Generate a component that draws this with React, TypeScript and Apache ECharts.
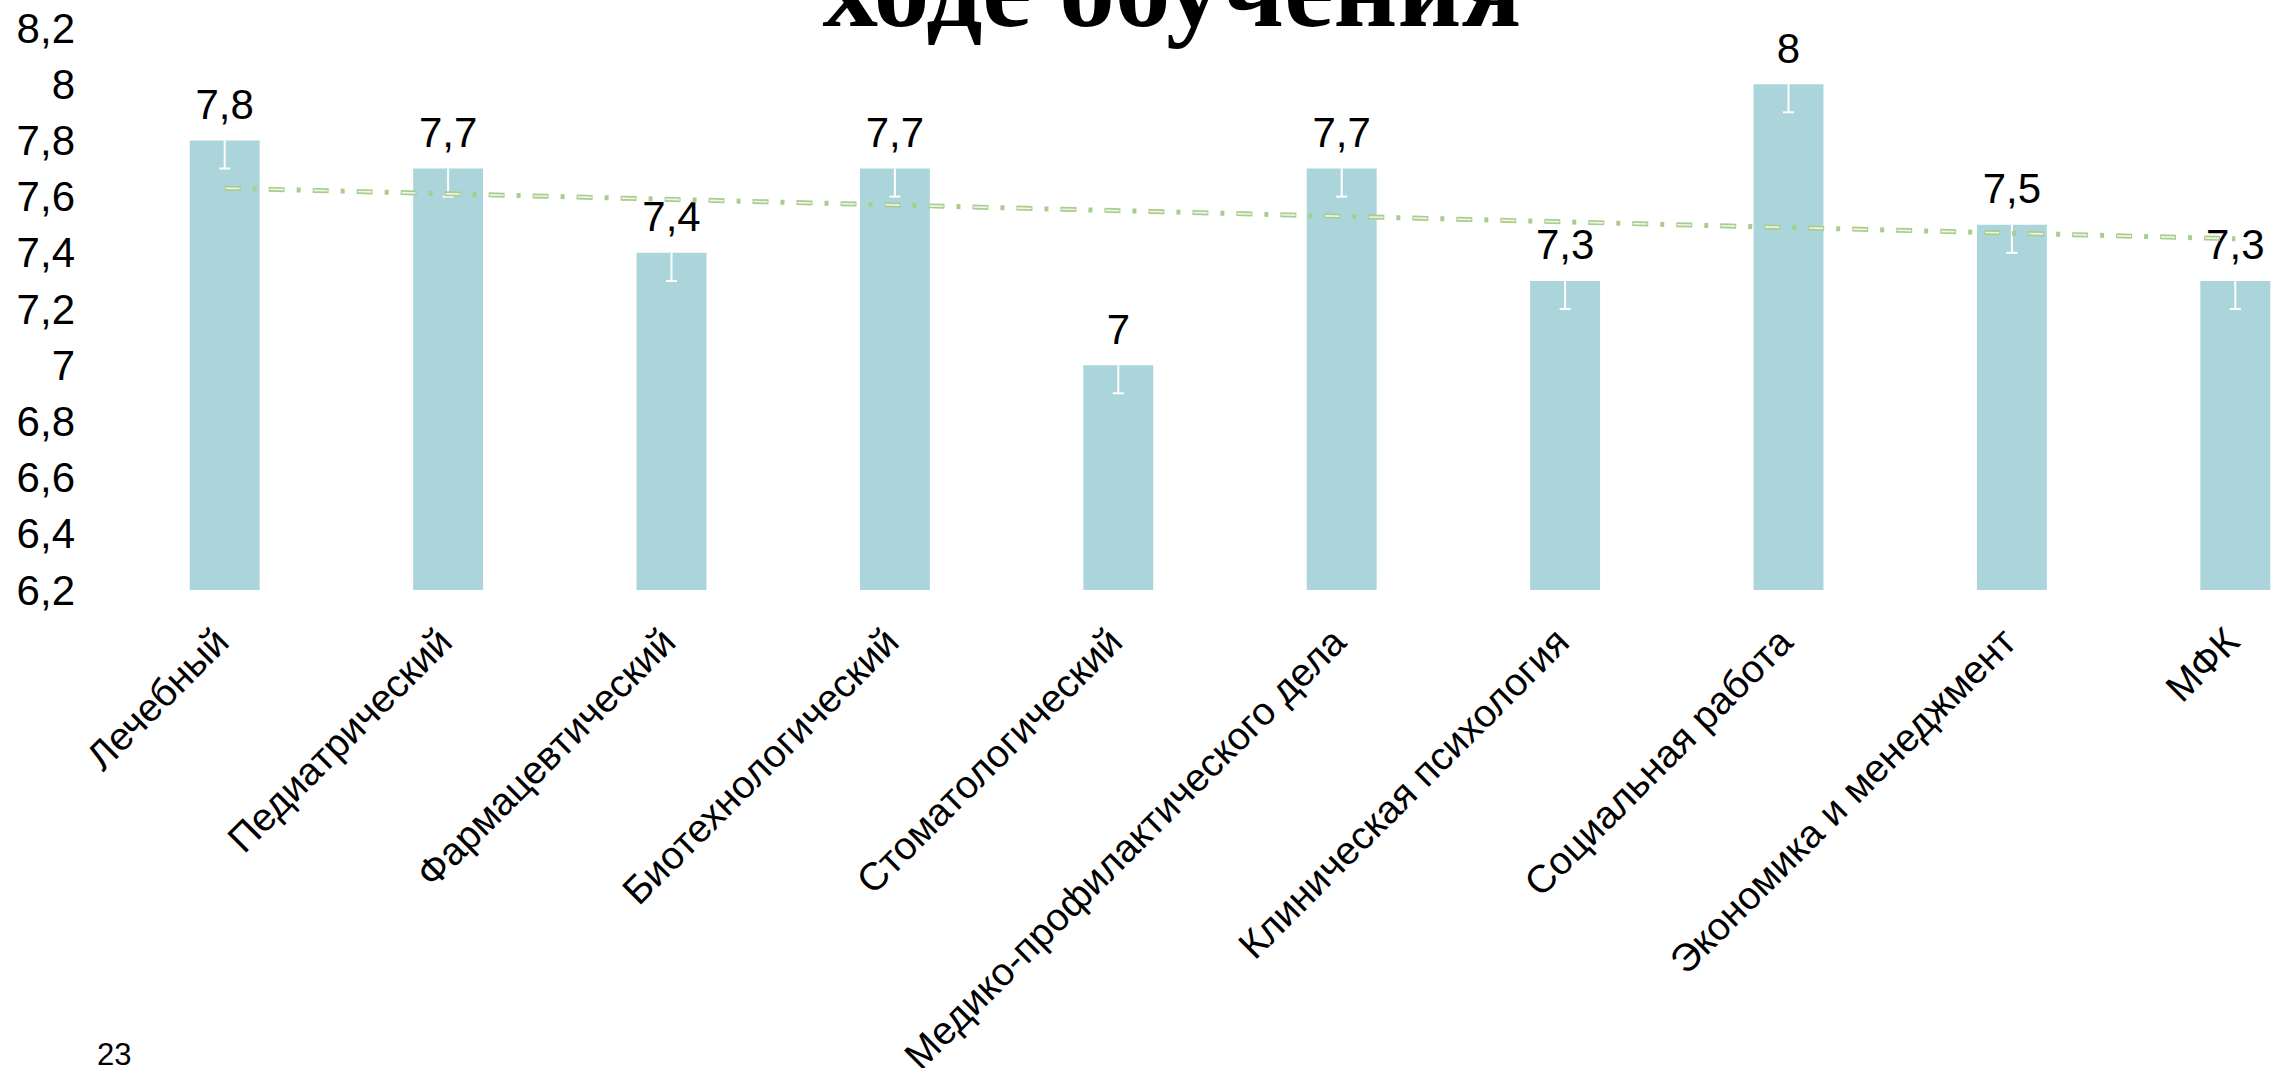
import React, { useEffect, useRef } from "react";
import * as echarts from "echarts";

const categories = [
  "Лечебный",
  "Педиатрический",
  "Фармацевтический",
  "Биотехнологический",
  "Стоматологический",
  "Медико-профилактического дела",
  "Клиническая психология",
  "Социальная работа",
  "Экономика и менеджмент",
  "МФК",
];
const scores = [7.8, 7.7, 7.4, 7.7, 7.0, 7.7, 7.3, 8.0, 7.5, 7.3];
const errorMinus = [0.1, 0.1, 0.1, 0.1, 0.1, 0.1, 0.1, 0.1, 0.1, 0.1];
// linear trendline end points (first and last category)
const trendValues = [7.63, null, null, null, null, null, null, null, null, 7.45];
const yMin = 6.2;
const yMax = 8.2;
const yStep = 0.2;
const titleText = "ходе обучения";
const pageNumber = "23";

const fmt = (v: number) => String(+(+v).toFixed(1)).replace(".", ",");

export default function App() {
  const ref = useRef<HTMLDivElement>(null);
  useEffect(() => {
    if (!ref.current) return;
    const chart = echarts.init(ref.current, undefined, { renderer: "svg" });
    const font = "'Liberation Sans', Arial, sans-serif";
    chart.setOption({
      animation: false,
      backgroundColor: "#ffffff",
      grid: {
        left: 113,
        top: 28,
        bottom: 478,
        width: 2234,
        containLabel: false,
        outerBoundsMode: "none",
      },
      xAxis: {
        type: "category",
        data: categories,
        axisLine: { show: false },
        axisTick: { show: false },
        axisLabel: {
          rotate: 45,
          interval: 0,
          margin: 14,
          padding: [0, 24, 0, 0],
          fontSize: 39,
          fontFamily: font,
          color: "#000",
          align: "right",
          verticalAlign: "top",
        },
      },
      yAxis: {
        type: "value",
        min: yMin,
        max: yMax,
        interval: yStep,
        axisLine: { show: false },
        axisTick: { show: false },
        splitLine: { show: false },
        axisLabel: {
          margin: 38,
          fontSize: 42,
          fontFamily: font,
          color: "#000",
          formatter: (v: number) => fmt(v),
        },
      },
      series: [
        {
          type: "bar",
          data: scores,
          barWidth: "31.3%",
          itemStyle: { color: "#abd5db" },
          label: {
            show: true,
            position: "top",
            distance: 15,
            fontSize: 42,
            fontFamily: font,
            color: "#000",
            formatter: (p: any) => fmt(p.value),
          },
          z: 2,
        },
        {
          type: "custom",
          data: scores.map((v, i) => [i, v, v - errorMinus[i]]),
          encode: { x: 0, y: [1, 2] },
          z: 3,
          renderItem: (params: any, api: any) => {
            const top = api.coord([api.value(0), api.value(1)]);
            const bot = api.coord([api.value(0), api.value(2)]);
            const style = { stroke: "#ffffff", lineWidth: 2 };
            return {
              type: "group",
              children: [
                { type: "line", shape: { x1: top[0], y1: top[1], x2: bot[0], y2: bot[1] }, style },
                { type: "line", shape: { x1: bot[0] - 5.5, y1: bot[1], x2: bot[0] + 5.5, y2: bot[1] }, style },
              ],
            };
          },
        },
        {
          type: "line",
          data: trendValues,
          connectNulls: true,
          symbol: "none",
          z: 4,
          lineStyle: { color: "#a9cd8f", width: 5, type: [16, 12, 4, 12], cap: "butt" },
        },
        {
          type: "line",
          data: trendValues,
          connectNulls: true,
          symbol: "none",
          z: 5,
          lineStyle: { color: "#eef6e7", width: 1.6, type: [14, 30], dashOffset: -1, cap: "butt" },
        },
      ],
      graphic: [
        {
          type: "text",
          x: 1172,
          y: -12,
          style: {
            text: titleText,
            font: "bold 111px 'Liberation Serif', 'Times New Roman', serif",
            fill: "#000",
            textAlign: "center",
            textVerticalAlign: "middle",
          },
        },
        {
          type: "text",
          x: 97,
          y: 1070,
          style: {
            text: pageNumber,
            font: "31px 'Liberation Sans', Arial, sans-serif",
            fill: "#000",
            textAlign: "left",
            textVerticalAlign: "bottom",
          },
        },
      ],
    });
    return () => chart.dispose();
  }, []);
  return (
    <div
      ref={ref}
      style={{ position: "fixed", left: 0, top: 0, width: 2292, height: 1068, overflow: "hidden", background: "#fff" }}
    />
  );
}
